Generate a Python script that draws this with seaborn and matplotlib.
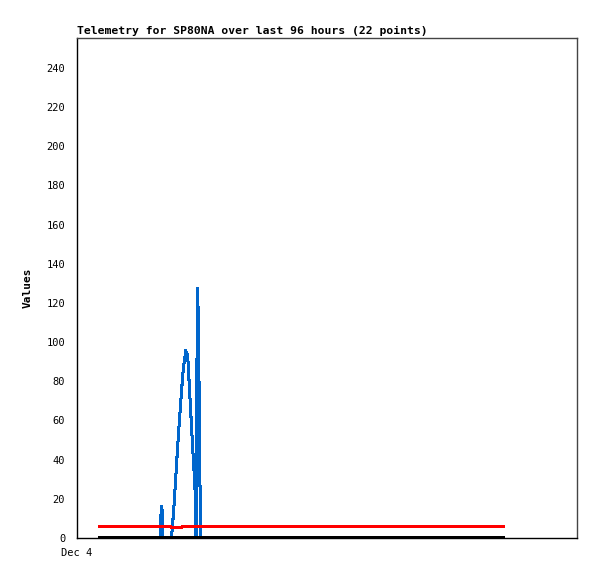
import pandas as pd
import seaborn as sns
import matplotlib
matplotlib.use('Agg')
import matplotlib.pyplot as plt

# hours since Dec 4 00:00
blue_hours = [5.0, 19.75, 19.85, 20.05, 20.15, 22.3, 22.6, 22.9, 23.2, 23.5, 23.8, 24.1, 24.4,
              24.7, 25.0, 25.3, 25.5, 25.7, 25.9, 26.1, 26.4, 26.7, 27.0, 27.3, 27.6, 27.85,
              28.05, 28.25, 28.35, 28.55, 28.7, 28.85, 29.05, 29.25, 29.5, 101.0]
blue_vals = [0, 0, 16, 16, 0, 0, 8, 17, 27, 38, 48, 58, 67,
             76, 84, 90, 93, 96, 90, 94, 82, 70, 58, 46, 35, 25,
             0, 0, 128, 120, 64, 80, 20, 0, 0, 0]

red_hours = [5.0, 22.0, 22.4, 24.6, 25.0, 101.0]
red_vals = [6.1, 6.1, 5.2, 5.4, 6.1, 6.1]

black_hours = [5.0, 101.0]
black_vals = [0, 0]

sns.set_style('white')
plt.rcParams['font.family'] = ['DejaVu Sans Mono']
plt.rcParams['text.color'] = 'black'
plt.rcParams['axes.labelcolor'] = 'black'

fig = plt.figure(figsize=(5.97, 5.79), dpi=100)
ax = fig.add_axes([77 / 597, 41 / 579, 500 / 597, 500 / 579])

line_kw = dict(sort=False, antialiased=False, solid_capstyle='butt', solid_joinstyle='miter', ax=ax)
sns.lineplot(x=blue_hours, y=blue_vals, color='#0066cc', linewidth=1.45, **line_kw)
sns.lineplot(x=red_hours, y=red_vals, color='#ff0000', linewidth=1.45, **line_kw)
sns.lineplot(x=black_hours, y=black_vals, color='black', linewidth=1.6, **line_kw)

ax.set_xlim(0, 118)
ax.set_ylim(0, 255.3)
ax.set_yticks(range(0, 241, 20))
ax.set_xticks([0])
ax.set_xticklabels(['Dec 4'])
ax.tick_params(axis='both', direction='out', length=5, width=0.8, labelsize=7.5, colors='black')
ax.tick_params(axis='x', direction='inout', length=8)

for side in ['left', 'bottom']:
    ax.spines[side].set_color('black')
    ax.spines[side].set_linewidth(1.0)
for side in ['top', 'right']:
    ax.spines[side].set_color('#444444')
    ax.spines[side].set_linewidth(1.0)

ax.set_ylabel('Values', fontsize=8, fontweight='bold', labelpad=10)
ax.set_title('Telemetry for SP80NA over last 96 hours (22 points)', loc='left',
             fontsize=8.2, fontweight='bold', pad=3, color='black')

fig.savefig('out.png', dpi=100)
